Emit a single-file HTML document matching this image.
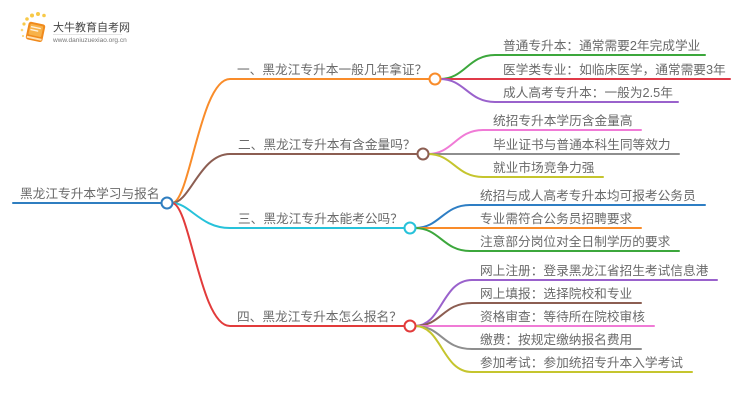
<!DOCTYPE html>
<html>
<head>
<meta charset="utf-8">
<style>
  html, body { margin: 0; padding: 0; background: #ffffff; }
  body { width: 750px; height: 410px; overflow: hidden; }
  svg { display: block; }
  text { font-family: "Liberation Sans", "Noto Sans CJK SC", "WenQuanYi Zen Hei", sans-serif; }
  .t { font-size: 12.7px; fill: #6a6a6a; }
</style>
</head>
<body>
<svg width="750" height="410" viewBox="0 0 750 410" xmlns="http://www.w3.org/2000/svg">
  <!-- Logo -->
  <g>
    <circle cx="24" cy="24" r="1.6" fill="#f7c948"/>
    <circle cx="27" cy="19" r="1.8" fill="#f7c948"/>
    <circle cx="32" cy="15.5" r="2" fill="#f7c948"/>
    <circle cx="38" cy="14" r="2" fill="#f7c948"/>
    <circle cx="44" cy="15.5" r="1.8" fill="#f7c948"/>
    <circle cx="22" cy="30" r="1.3" fill="#f9d77a"/>
    <circle cx="23" cy="36" r="1.1" fill="#f9d77a"/>
    <g transform="rotate(12 36 32)">
      <rect x="27" y="23" width="17" height="18" rx="2.5" fill="#f08a1c"/>
      <rect x="29" y="25" width="13" height="11" rx="1" fill="#f7b24a"/>
      <rect x="30" y="27" width="10" height="1.4" fill="#ffffff" opacity="0.8"/>
      <rect x="30" y="30" width="8" height="1.4" fill="#ffffff" opacity="0.8"/>
      <rect x="28" y="37.5" width="15" height="2" fill="#ffe0b0"/>
    </g>
    <text x="53" y="31" style="font-size:11px; fill:#444444;">大牛教育自考网</text>
    <line x1="53" y1="34.5" x2="122" y2="34.5" stroke="#dddddd" stroke-width="0.8"/>
    <text x="53" y="42" style="font-size:6.5px; fill:#777777;">www.daniuzuexiao.org.cn</text>
  </g>

  <g fill="none" stroke-width="2" stroke-linecap="round">
    <!-- root line -->
    <line x1="13" y1="203" x2="162" y2="203" stroke="#2f7ec0"/>

    <!-- main branches -->
    <path d="M172,203 C190,203 200,79 230,79 L430,79" stroke="#f98c2a"/>
    <path d="M172,203 C190,203 200,154 230,154 L418,154" stroke="#8c5e52"/>
    <path d="M172,203 C190,203 200,228 230,228 L405,228" stroke="#27c2da"/>
    <path d="M172,203 C190,203 200,326 230,326 L404,326" stroke="#e23b3b"/>

    <!-- branch 1 children -->
    <path d="M440,79 C465,79 468,55 495,55 L705,55" stroke="#3ca73c"/>
    <path d="M440,79 L730,79" stroke="#e03a48"/>
    <path d="M440,79 C465,79 468,102 495,102 L678,102" stroke="#9a62cc"/>

    <!-- branch 2 children -->
    <path d="M428,154 C453,154 456,130 483,130 L641,130" stroke="#f07bd6"/>
    <path d="M428,154 L679,154" stroke="#8e8e8e"/>
    <path d="M428,154 C453,154 456,177 483,177 L603,177" stroke="#c5c52e"/>

    <!-- branch 3 children -->
    <path d="M415,228 C440,228 443,205 470,205 L705,205" stroke="#2e7ec4"/>
    <path d="M415,228 L641,228" stroke="#f98c2a"/>
    <path d="M415,228 C440,228 443,251 470,251 L679,251" stroke="#3ca73c"/>

    <!-- branch 4 children -->
    <path d="M415,326 C442,326 442,280 472,280 L717,280" stroke="#9a62cc"/>
    <path d="M415,326 C442,326 442,303 472,303 L641,303" stroke="#8c5e52"/>
    <path d="M415,326 L654,326" stroke="#f07bd6"/>
    <path d="M415,326 C442,326 442,349 472,349 L641,349" stroke="#8e8e8e"/>
    <path d="M415,326 C442,326 442,372 472,372 L692,372" stroke="#c5c52e"/>
  </g>

  <!-- node circles -->
  <g fill="#ffffff" stroke-width="2">
    <circle cx="167" cy="203" r="5.5" stroke="#2f7ec0"/>
    <circle cx="435" cy="79" r="5.5" stroke="#f98c2a"/>
    <circle cx="423" cy="154" r="5.5" stroke="#8c5e52"/>
    <circle cx="410" cy="228" r="5.5" stroke="#27c2da"/>
    <circle cx="410" cy="326" r="5.5" stroke="#e23b3b"/>
  </g>

  <!-- labels -->
  <text class="t" x="20" y="198">黑龙江专升本学习与报名</text>

  <text class="t" x="237" y="74">一、黑龙江专升本一般几年拿证？</text>
  <text class="t" x="238" y="149">二、黑龙江专升本有含金量吗？</text>
  <text class="t" x="238" y="223">三、黑龙江专升本能考公吗？</text>
  <text class="t" x="237" y="321">四、黑龙江专升本怎么报名？</text>

  <text class="t" x="503" y="50">普通专升本：通常需要2年完成学业</text>
  <text class="t" x="503" y="74">医学类专业：如临床医学，通常需要3年</text>
  <text class="t" x="503" y="97">成人高考专升本：一般为2.5年</text>

  <text class="t" x="493" y="125">统招专升本学历含金量高</text>
  <text class="t" x="493" y="149">毕业证书与普通本科生同等效力</text>
  <text class="t" x="493" y="172">就业市场竞争力强</text>

  <text class="t" x="480" y="200">统招与成人高考专升本均可报考公务员</text>
  <text class="t" x="480" y="223">专业需符合公务员招聘要求</text>
  <text class="t" x="480" y="246">注意部分岗位对全日制学历的要求</text>

  <text class="t" x="480" y="275">网上注册：登录黑龙江省招生考试信息港</text>
  <text class="t" x="480" y="298">网上填报：选择院校和专业</text>
  <text class="t" x="480" y="321">资格审查：等待所在院校审核</text>
  <text class="t" x="480" y="344">缴费：按规定缴纳报名费用</text>
  <text class="t" x="480" y="367">参加考试：参加统招专升本入学考试</text>
</svg>
</body>
</html>
